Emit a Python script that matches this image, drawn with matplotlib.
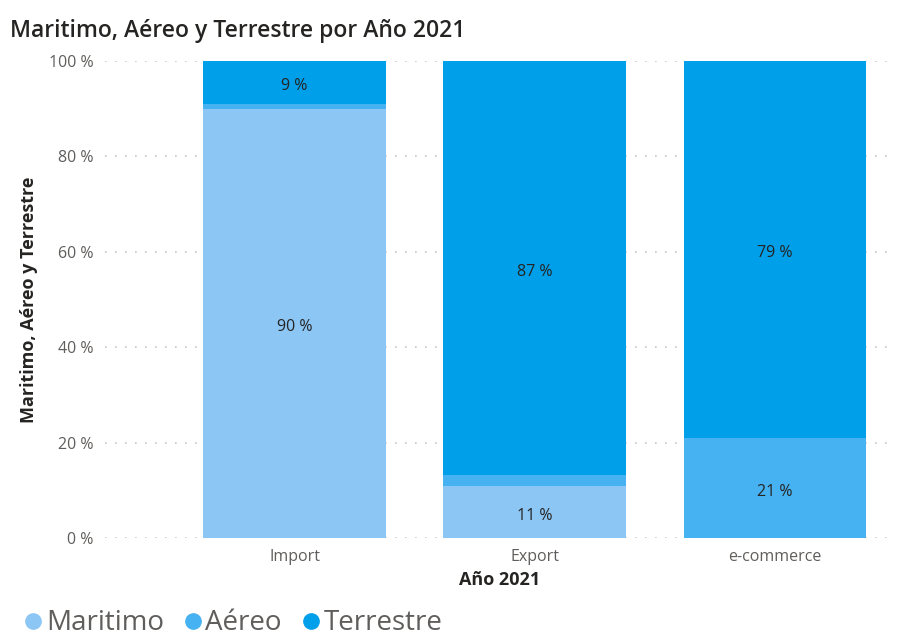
import matplotlib.pyplot as plt
import numpy as np
from matplotlib.lines import Line2D

categories = ['Import', 'Export', 'e-commerce']
series = ['Maritimo', 'Aéreo', 'Terrestre']
maritimo = [90, 11, 0]
aereo = [1, 2.2, 21]
terrestre = [9, 86.8, 79]
labels = {
    'Maritimo': ['90 %', '11 %', ''],
    'Aéreo': ['', '', '21 %'],
    'Terrestre': ['9 %', '87 %', '79 %'],
}
colors = ['#8cc6f5', '#46b2f2', '#009fea']
yticks = [0, 20, 40, 60, 80, 100]

plt.rcParams['font.family'] = ['Open Sans', 'DejaVu Sans']

fig = plt.figure(figsize=(9.04, 6.36), dpi=100)
ax = fig.add_axes([0.116, 0.154, 0.874, 0.750])

x = np.arange(len(categories))
bottom = np.zeros(len(categories))
for name, vals, c in zip(series, [maritimo, aereo, terrestre], colors):
    vals = np.array(vals, dtype=float)
    ax.bar(x, vals, width=0.76, bottom=bottom, color=c, zorder=2)
    for xi, b, v, lab in zip(x, bottom, vals, labels[name]):
        if lab:
            ax.text(xi, b + v / 2 - 0.8, lab, ha='center', va='center',
                    fontsize=11.5, fontweight='medium', color='#252423', zorder=3)
    bottom += vals

ax.set_xlim(-0.79, 2.5)
ax.set_ylim(0, 100)
ax.set_yticks(yticks)
ax.set_yticklabels([f'{t} %' for t in yticks])
ax.set_xticks(x)
ax.set_xticklabels(categories)
ax.tick_params(axis='both', length=0, labelsize=11.5, colors='#605e5c', pad=8)
ax.grid(axis='y', color='#c8c6c4', linestyle=(0, (1, 5)), linewidth=1.2, zorder=0)
ax.set_axisbelow(True)
for s in ax.spines.values():
    s.set_visible(False)

ax.set_xlabel('Año 2021', fontsize=13, fontweight='bold', color='#252423', labelpad=4)
ax.set_ylabel('Maritimo, Aéreo y Terrestre', fontsize=13, fontweight='bold',
              color='#252423', labelpad=8)

fig.text(0.011, 0.952, 'Maritimo, Aéreo y Terrestre por Año 2021', fontsize=16.5,
         fontweight='semibold', color='#252423', va='center', ha='left')

# legend
handles = [Line2D([], [], marker='o', linestyle='', markersize=11, color=c) for c in colors]
fig.legend(handles, series, loc='center left', bbox_to_anchor=(0.0, 0.02),
           ncol=3, frameon=False, fontsize=20, handletextpad=-0.15,
           handlelength=1.2, columnspacing=0.45, labelcolor='#605e5c',
           borderaxespad=0.2)

fig.savefig('out.png', dpi=100)
